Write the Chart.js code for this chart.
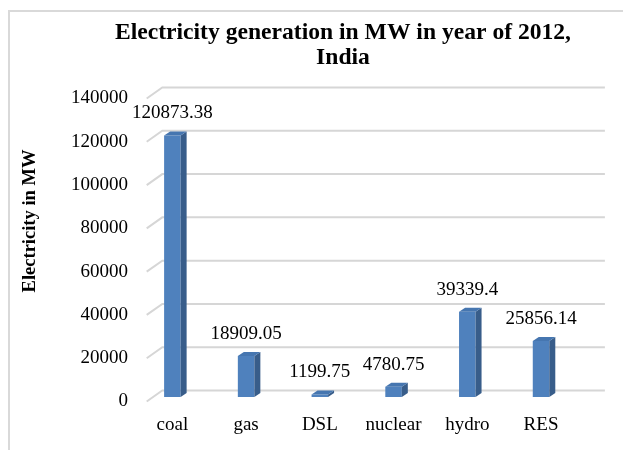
<!DOCTYPE html>
<html><head><meta charset="utf-8">
<script src="https://cdn.jsdelivr.net/npm/chart.js@4.4.1/dist/chart.umd.min.js"></script>
<style>
html,body{margin:0;padding:0;width:623px;height:450px;overflow:hidden;background:#fff;}
#frame{position:absolute;left:8px;top:10px;border-left:2px solid #d9d9d9;border-top:2px solid #d9d9d9;}
canvas{display:block;}
</style></head><body>
<div id="frame"><canvas id="c" width="666" height="438"></canvas></div>
<script>
// ---- data ----
const categories = ['coal', 'gas', 'DSL', 'nuclear', 'hydro', 'RES'];
const generationMW = [120873.38, 18909.05, 1199.75, 4780.75, 39339.4, 25856.14];
const yTicks = [0, 20000, 40000, 60000, 80000, 100000, 120000, 140000];
const chartTitle = ['Electricity generation in MW in year of 2012,', 'India'];
const yAxisTitle = 'Electricity in MW';

// ---- styles ----
const FONT = 'Liberation Serif';
const FRONT = '#4F81BD', SIDE = '#385D8A', TOP = '#4676B0';
const BAR_DX = 6, BAR_DY = 4;

const gridPlugin = {
  id: 'grid3d',
  beforeDatasetsDraw(chart) {
    const {ctx, chartArea, scales: {y}} = chart;
    const fx = chartArea.left + 11.2, bx = fx + 15.6, ex = chartArea.right + 27;
    ctx.save();
    ctx.strokeStyle = '#d6d6d6';
    ctx.lineWidth = 2;
    yTicks.forEach(v => {
      const py = y.getPixelForValue(v);
      ctx.beginPath();
      ctx.moveTo(fx, py + 4.5);
      ctx.lineTo(bx, py - 6.5);
      ctx.lineTo(ex, py - 6.5);
      ctx.stroke();
    });
    ctx.restore();
  }
};

const bar3dPlugin = {
  id: 'bar3d',
  afterDatasetsDraw(chart) {
    const {ctx} = chart;
    const meta = chart.getDatasetMeta(0);
    ctx.save();
    meta.data.forEach((bar, i) => {
      const {x, y, base, width} = bar.getProps(['x', 'y', 'base', 'width'], true);
      const l = x - width / 2, r = x + width / 2;
      ctx.fillStyle = SIDE;
      ctx.beginPath();
      ctx.moveTo(r, y); ctx.lineTo(r + BAR_DX, y - BAR_DY);
      ctx.lineTo(r + BAR_DX, base - BAR_DY); ctx.lineTo(r, base);
      ctx.closePath(); ctx.fill();
      ctx.fillStyle = TOP;
      ctx.beginPath();
      ctx.moveTo(l, y); ctx.lineTo(l + BAR_DX, y - BAR_DY);
      ctx.lineTo(r + BAR_DX, y - BAR_DY); ctx.lineTo(r, y);
      ctx.closePath(); ctx.fill();
      ctx.fillStyle = '#000';
      ctx.font = '19px "' + FONT + '"';
      ctx.textAlign = 'center';
      ctx.textBaseline = 'middle';
      ctx.fillText(String(generationMW[i]), x, y - 22);
    });
    ctx.translate(20, 209);
    ctx.rotate(-Math.PI / 2);
    ctx.font = 'bold 18.5px "' + FONT + '"';
    ctx.textAlign = 'center';
    ctx.textBaseline = 'middle';
    ctx.fillStyle = '#000';
    ctx.fillText(yAxisTitle, 0, 0);
    ctx.restore();
  }
};

new Chart(document.getElementById('c'), {
  type: 'bar',
  data: {
    labels: categories,
    datasets: [{
      label: 'Electricity in MW',
      data: generationMW,
      backgroundColor: FRONT,
      borderWidth: 0,
      barPercentage: 0.224,
      categoryPercentage: 1
    }]
  },
  options: {
    responsive: false,
    devicePixelRatio: 1,
    animation: false,
    layout: {padding: 0},
    plugins: {
      legend: {display: false},
      tooltip: {enabled: false},
      title: {
        display: true,
        text: chartTitle,
        color: '#000',
        font: {family: FONT, size: 23.6, weight: 'bold', lineHeight: '25px'},
        padding: {top: 8, bottom: 24}
      }
    },
    scales: {
      x: {
        grid: {display: false, drawTicks: false},
        border: {display: false},
        ticks: {color: '#000', font: {family: FONT, size: 19}, padding: 17},
        afterFit: s => { s.height = 53; }
      },
      y: {
        min: 0, max: 140000,
        grid: {display: false, drawTicks: false},
        border: {display: false},
        afterBuildTicks: s => { s.ticks = yTicks.map(v => ({value: v})); },
        ticks: {color: '#000', font: {family: FONT, size: 19}, padding: 7.5, labelOffset: 4.5,
                callback: v => String(v)},
        afterFit: s => { s.width = 125.5; }
      },
      spacer: {
        type: 'linear',
        position: 'right',
        display: true,
        grid: {display: false, drawTicks: false},
        border: {display: false},
        ticks: {display: false},
        afterFit: s => { s.width = 98.1; }
      }
    }
  },
  plugins: [gridPlugin, bar3dPlugin]
});
</script>
</body></html>
